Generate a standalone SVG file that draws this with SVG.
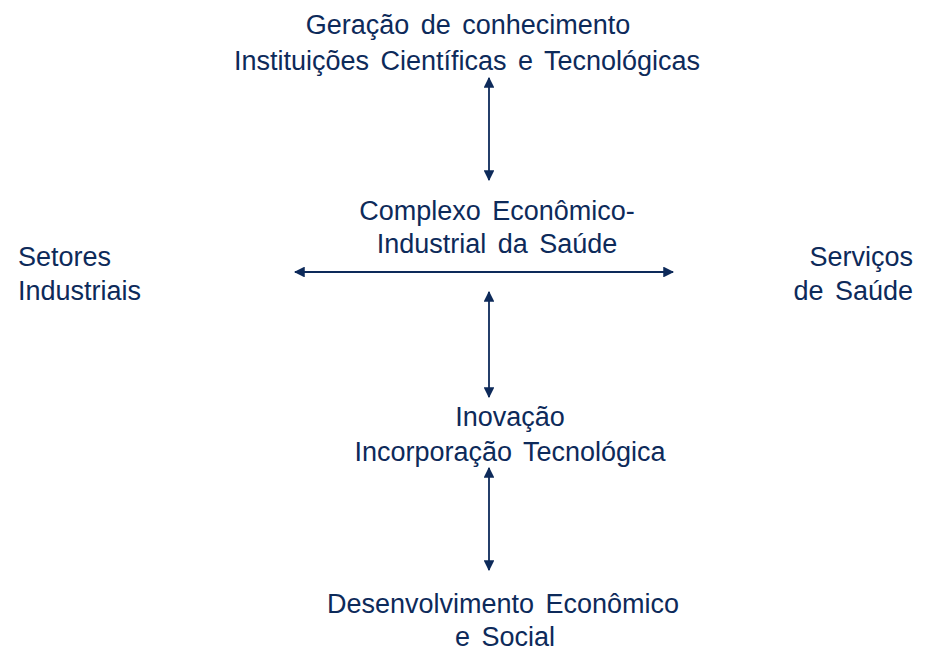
<svg xmlns="http://www.w3.org/2000/svg" width="943" height="670" viewBox="0 0 943 670">
<style>
text{font-family:"Liberation Sans",Arial,sans-serif;font-size:27px;fill:#0d2a5a;word-spacing:4px}
.c{text-anchor:middle}
.r{text-anchor:end}
.ln{stroke:#0d2a5a;stroke-width:1.8;fill:none;marker-start:url(#a);marker-end:url(#a)}
</style>
<defs>
<marker id="a" viewBox="0 0 10 10" refX="9" refY="5" markerWidth="6" markerHeight="6" orient="auto-start-reverse" markerUnits="strokeWidth">
<path d="M0,0 L10,5 L0,10 z" fill="#0d2a5a"/>
</marker>
</defs>
<rect width="943" height="670" fill="#fff"/>
<g id="conhecimento"><text class="c" x="468" y="34">Geração de conhecimento</text><text class="c" x="467" y="70">Instituições Científicas e Tecnológicas</text></g>
<g id="complexo"><text class="c" x="497" y="220">Complexo Econômico-</text><text class="c" x="497" y="253">Industrial da Saúde</text></g>
<g id="setores"><text x="18" y="266">Setores</text><text x="18" y="300">Industriais</text></g>
<g id="servicos"><text class="r" x="913" y="266">Serviços</text><text class="r" x="913" y="300">de Saúde</text></g>
<g id="inovacao"><text class="c" x="510" y="426">Inovação</text><text class="c" x="510" y="461">Incorporação Tecnológica</text></g>
<g id="desenvolvimento"><text class="c" x="503" y="613">Desenvolvimento Econômico</text><text class="c" x="505" y="646">e Social</text></g>
<g id="connectors">
<line class="ln" x1="489" y1="78" x2="489" y2="180"/>
<line class="ln" x1="295" y1="272" x2="673" y2="272"/>
<line class="ln" x1="489" y1="292" x2="489" y2="397"/>
<line class="ln" x1="489" y1="468" x2="489" y2="570"/>
</g>
</svg>
